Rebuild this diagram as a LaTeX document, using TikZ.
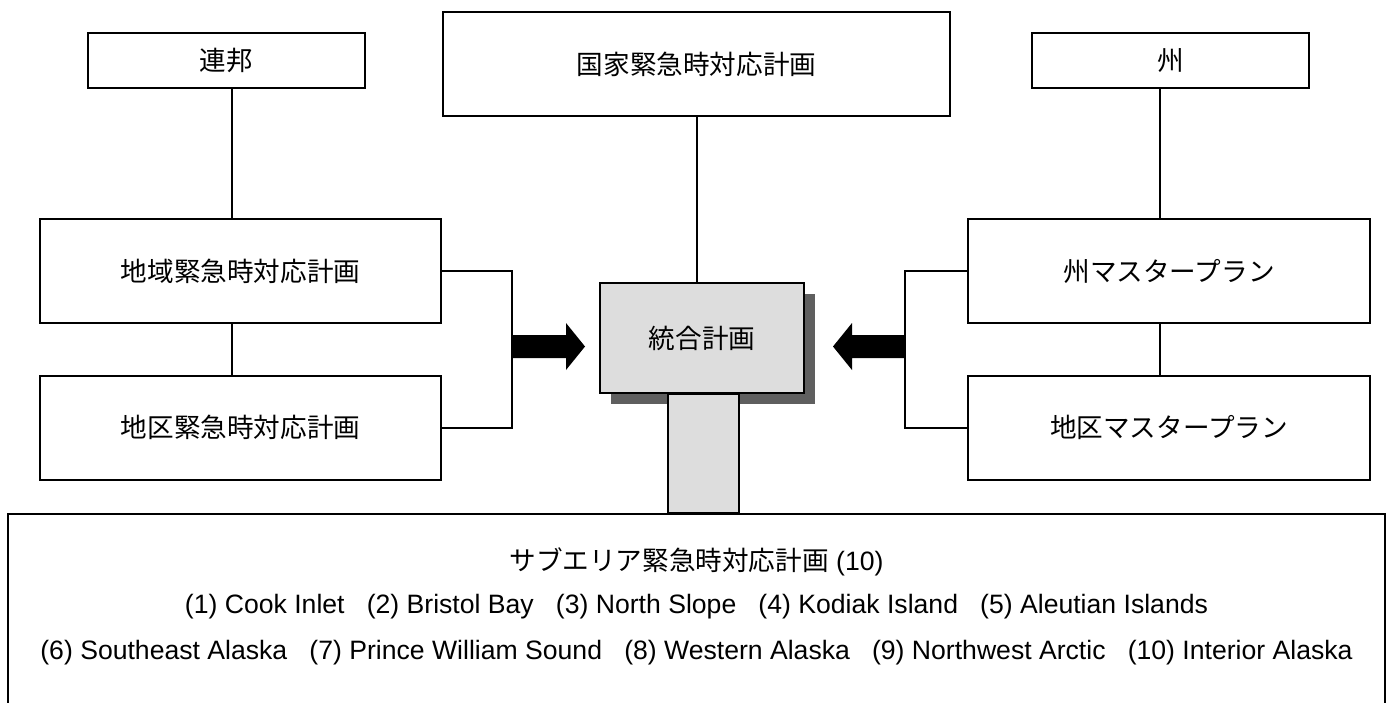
\documentclass[tikz,border=0pt]{standalone}
\usepackage{fontspec}
\setmainfont{Liberation Sans}
\newfontfamily\cjk{Noto Sans CJK JP}
\usetikzlibrary{calc,shadows}

\definecolor{boxgray}{HTML}{DDDDDD}
\definecolor{shadegray}{HTML}{5F5F5F}

\tikzset{
	planbox/.style={draw=black, line width=1pt, fill=white, inner sep=0pt,
		font=\fontsize{13.3pt}{16pt}\selectfont\cjk},
	link/.style={draw=black, line width=1pt},
	bigarrow/.style={fill=black},
	rowtext/.style={font=\fontsize{13.3pt}{16pt}\selectfont},
}

\begin{document}
\begin{tikzpicture}[x=0.5pt, y=-0.5pt]
		\useasboundingbox (0,0) rectangle (1392,702);
		
		% livello superiore
		\node[planbox, minimum width=138.5pt, minimum height=27.5pt] (fed) at (226.5,60.5) {連邦};
		\node[planbox, minimum width=253.5pt, minimum height=52pt] (nat) at (696.5,64) {国家緊急時対応計画};
		\node[planbox, minimum width=138.5pt, minimum height=27.5pt] (sta) at (1170.5,60.5) {州};
		
		% piani federali e statali
		\node[planbox, minimum width=200.5pt, minimum height=52pt] (reg) at (240.5,271) {地域緊急時対応計画};
		\node[planbox, minimum width=200.5pt, minimum height=52pt] (dis) at (240.5,427.5) {地区緊急時対応計画};
		\node[planbox, minimum width=201pt, minimum height=52pt] (smp) at (1169,271) {州マスタープラン};
		\node[planbox, minimum width=201pt, minimum height=52pt] (dmp) at (1169,427.5) {地区マスタープラン};
		
		% piano unificato
		\node[planbox, fill=boxgray, minimum width=102pt, minimum height=55pt,
			drop shadow={shadow xshift=5.5pt, shadow yshift=-5.5pt, fill=shadegray, opacity=1}] (cen) at (702,338) {統合計画};
		
		\node[planbox, anchor=north, minimum width=688.5pt, minimum height=120pt] (sub) at (696.5,513) {};
		\draw[link, fill=boxgray] ($(cen.south)+(-34,0)$) rectangle ($(cen.south |- sub.north)+(37,0)$);
		
		\node[rowtext] (subtitle) at (696.5,562) {{\cjk サブエリア緊急時対応計画} (10)};
		\node[rowtext] (rowa) at (696.5,607)
			{(1) Cook Inlet\ \ \ (2) Bristol Bay\ \ \ (3) North Slope\ \ \ (4) Kodiak Island\ \ \ (5) Aleutian Islands};
		\node[rowtext] (rowb) at (696.5,653)
			{(6) Southeast Alaska\ \ \ (7) Prince William Sound\ \ \ (8) Western Alaska\ \ \ (9) Northwest Arctic\ \ \ (10) Interior Alaska};
		
		% collegamenti
		\coordinate (lspine) at (232,0);
		\coordinate (rspine) at (1160,0);
		\coordinate (lbr) at (512,346.5);
		\coordinate (rbr) at (905,346.5);
		
		\draw[link] (fed.south -| lspine) -- (reg.north -| lspine);
		\draw[link] (reg.south -| lspine) -- (dis.north -| lspine);
		\draw[link] (sta.south -| rspine) -- (smp.north -| rspine);
		\draw[link] (smp.south -| rspine) -- (dmp.north -| rspine);
		\draw[link] (nat.south) -- (nat.south |- cen.north);
		
		\draw[link] (reg.east) -- (reg.east -| lbr) -- (dis.east -| lbr) -- (dis.east);
		\draw[link] (smp.west) -- (smp.west -| rbr) -- (dmp.west -| rbr) -- (dmp.west);
		
		% frecce
		\fill[bigarrow] (lbr) ++(0,-11.5) -- ++(54,0) -- ++(0,-12) -- ++(19,23.5) -- ++(-19,23.5) -- ++(0,-12) -- ++(-54,0) -- cycle;
		\fill[bigarrow] (rbr) ++(0,-11.5) -- ++(-53,0) -- ++(0,-12) -- ++(-19,23.5) -- ++(19,23.5) -- ++(0,-12) -- ++(53,0) -- cycle;
	\end{tikzpicture}
\end{document}
